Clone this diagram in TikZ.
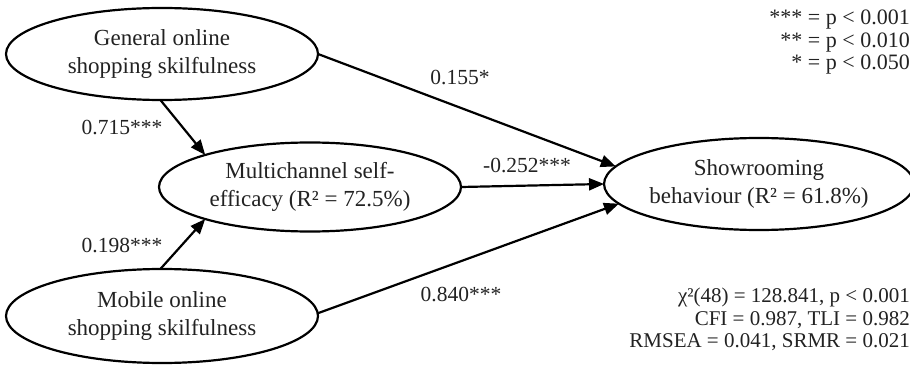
\documentclass[tikz,border=0pt]{standalone}
\usepackage{fontspec}
\setmainfont{Liberation Serif}
\usetikzlibrary{arrows.meta,shapes.geometric}
\definecolor{txt}{HTML}{222222}
\begin{document}
\begin{tikzpicture}[x=1pt,y=-1pt,
  latent/.style={ellipse,draw=black,line width=2.2pt,inner sep=0pt,outer sep=0pt,align=center,text=txt,font=\fontsize{23}{28}\selectfont},
  patharrow/.style={draw=black,line width=2.2pt,-{Triangle[length=15pt,width=12pt]}},
  coef/.style={text=txt,font=\fontsize{21.5}{25}\selectfont,inner sep=0pt},
  legendline/.style={text=txt,font=\fontsize{21}{25}\selectfont,inner sep=0pt,anchor=base east}]
\useasboundingbox (0,0) rectangle (910,366);
\node[latent,minimum width=312pt,minimum height=92pt] (gen) at (162,54) {General online\\shopping skilfulness};
\node[latent,minimum width=302pt,minimum height=89pt] (multi) at (310,187) {Multichannel self-\\efficacy (R² = 72.5\%)};
\node[latent,minimum width=312pt,minimum height=94pt] (mob) at (162,316) {Mobile online\\shopping skilfulness};
\node[latent,minimum width=294pt,minimum height=92pt] (show) at (759,184) {Showrooming\\behaviour (R² = 61.8\%)};
\draw[patharrow] (gen.268) -- (multi.163);
\draw[patharrow] (mob.92) -- (multi.197);
\draw[patharrow] (gen.0) -- (show.173);
\draw[patharrow] (multi.east) -- (show.180);
\draw[patharrow] (mob.1) -- (show.188);
\node[coef] (c1) at (122,128) {0.715***};
\node[coef] (c2) at (122,246) {0.198***};
\node[coef] (c3) at (460,78) {0.155*};
\node[coef] (c4) at (527,166) {-0.252***};
\node[coef] (c5) at (461,295) {0.840***};
\node[legendline,font=\fontsize{22}{25}\selectfont] (l1) at (910,25) {*** = p < 0.001};
\node[legendline,font=\fontsize{22}{25}\selectfont] (l2) at (910,47.5) {** = p < 0.010};
\node[legendline,font=\fontsize{22}{25}\selectfont] (l3) at (910,70) {* = p < 0.050};
\node[legendline] (f1) at (910,302) {χ²(48) = 128.841, p < 0.001};
\node[legendline] (f2) at (910,325) {CFI = 0.987, TLI = 0.982};
\node[legendline] (f3) at (910,347) {RMSEA = 0.041, SRMR = 0.021};
\end{tikzpicture}
\end{document}
